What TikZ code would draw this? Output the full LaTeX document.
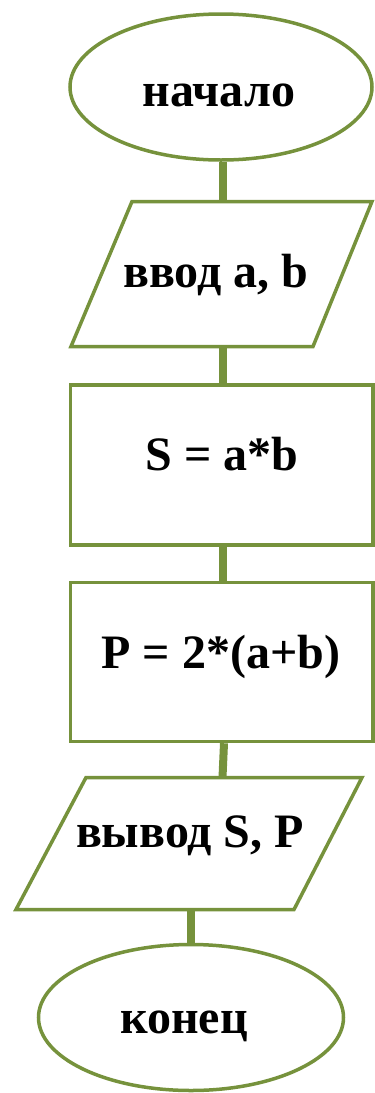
\documentclass[tikz,border=0pt]{standalone}
\usepackage{fontspec}
\setmainfont{Liberation Serif}
\usetikzlibrary{shapes.geometric}
\definecolor{olivegr}{RGB}{118,146,60}
\begin{document}
\begin{tikzpicture}[x=1pt,y=-1pt,
  shapeline/.style={draw=olivegr, line width=3.5pt, fill=white},
  conn/.style={draw=olivegr, line width=8pt},
  lbl/.style={font=\fontsize{48}{48}\selectfont\bfseries, anchor=base, inner sep=0pt}]
\useasboundingbox (0,0) rectangle (375,1093);
% shapes
\node[ellipse, shapeline, minimum width=302pt, minimum height=146pt, inner sep=0pt] (e1) at (221,87) {};
\node[lbl] (t1) at (219,106) {начало};
\draw[shapeline, line join=miter] (132,201.5) -- (372,201.5) -- (313,346.5) -- (71,346.5) -- cycle;
\node[lbl] (t2) at (216,287) {ввод a, b};
\node[rectangle, shapeline, minimum width=302.5pt, minimum height=160pt, inner sep=0pt] (r1) at (221.75,465) {};
\node[lbl] (t3) at (222,470) {S = a*b};
\node[rectangle, shapeline, minimum width=302.5pt, minimum height=159pt, inner sep=0pt] (r2) at (221.75,662) {};
\node[lbl] (t4) at (221,668) {P = 2*(a+b)};
\draw[shapeline, line join=miter] (86,777.5) -- (362,777.5) -- (294,909.5) -- (16,909.5) -- cycle;
\node[lbl] (t5) at (190,847) {вывод S, P};
\node[ellipse, shapeline, minimum width=305pt, minimum height=146pt, inner sep=0pt] (e2) at (191,1017.5) {};
\node[lbl] (t6) at (184,1033) {конец};
% connector end points on the parallelograms
\coordinate (p1t) at (223,201.5);
\coordinate (p1b) at (223,346.5);
\coordinate (p2t) at (222.5,777.5);
\coordinate (p2b) at (191,909.5);
\coordinate (r2out) at (224,662);
% connectors
\draw[conn] (e1.south -| p1t) -- (p1t);
\draw[conn] (p1b) -- (r1.north -| p1b);
\draw[conn] (r1.south -| p1b) -- (r2.north -| p1b);
\draw[conn] (r2.south -| r2out) -- (p2t);
\draw[conn] (p2b) -- (e2.north -| p2b);
\end{tikzpicture}
\end{document}
